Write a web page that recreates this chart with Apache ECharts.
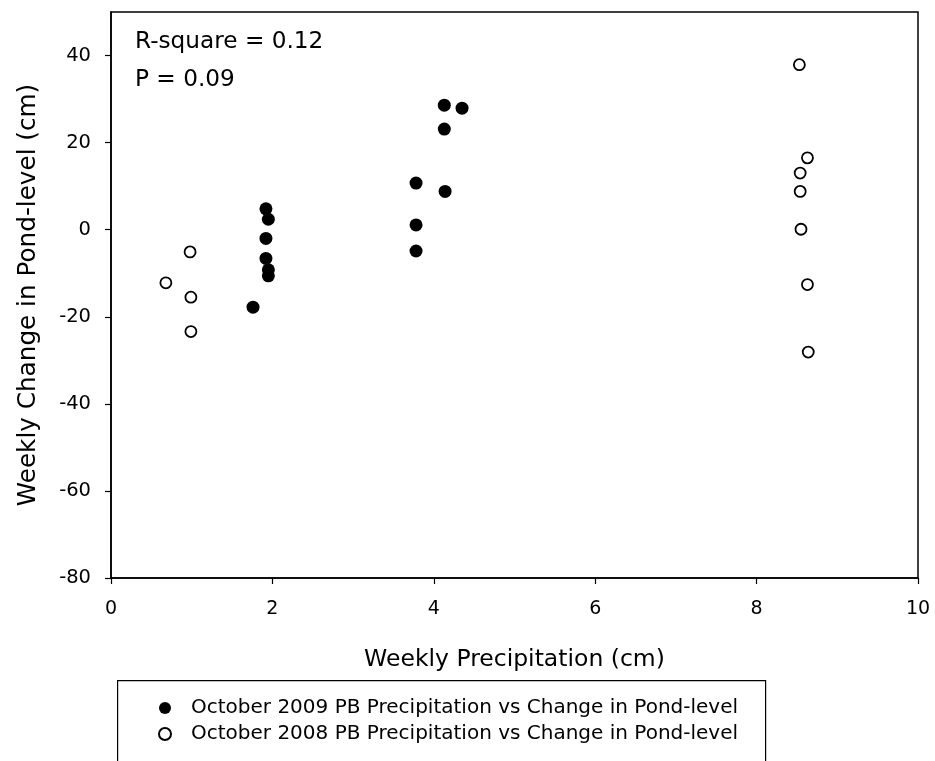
<!DOCTYPE html>
<html>
<head>
<meta charset="utf-8">
<script src="https://cdn.jsdelivr.net/npm/echarts@6/dist/echarts.min.js"></script>
<style>
html,body{margin:0;padding:0;background:#fff;}
#chart{width:935px;height:761px;}
</style>
</head>
<body>
<div id="chart"></div>
<script>
// Data
var x2009 = [1.92, 1.95, 1.92, 1.92, 1.95, 1.95, 1.76, 3.78, 4.14, 3.78, 3.78, 4.13, 4.35, 4.13];
var y2009 = [4.8, 2.4, -2.0, -6.6, -9.2, -10.6, -17.8, 10.7, 8.8, 1.1, -4.9, 28.6, 27.9, 23.1];
var x2008 = [0.98, 0.68, 0.99, 0.99, 8.53, 8.63, 8.54, 8.54, 8.55, 8.63, 8.64];
var y2008 = [-5.1, -12.2, -15.5, -23.4, 37.9, 16.5, 13.0, 8.8, 0.1, -12.6, -28.1];
var name2009 = 'October 2009 PB Precipitation vs Change in Pond-level';
var name2008 = 'October 2008 PB Precipitation vs Change in Pond-level';
var xTitle = 'Weekly Precipitation (cm)';
var yTitle = 'Weekly Change in Pond-level (cm)';
var statLines = ['R-square = 0.12', 'P = 0.09'];

function pairs(xs, ys){ return xs.map(function(x,i){ return [x, ys[i]]; }); }

var FONT = 'DejaVu Sans';
var chart = echarts.init(document.getElementById('chart'), null, {renderer:'canvas'});
chart.setOption({
  backgroundColor: '#fff',
  animation: false,
  textStyle: {fontFamily: FONT, color: '#000'},
  grid: {left: 111, right: 17, top: 12, bottom: 183, show: true, borderColor: '#000', borderWidth: 1.5, backgroundColor: 'transparent'},
  xAxis: {
    type: 'value', min: 0, max: 10, interval: 2,
    name: xTitle, nameLocation: 'middle', nameGap: 70,
    nameTextStyle: {fontFamily: FONT, fontSize: 23.5, color: '#000'},
    axisLine: {show: true, onZero: false, lineStyle: {color: '#000', width: 1.5}},
    axisTick: {show: true, inside: false, length: 6, lineStyle: {color: '#000', width: 1.2}},
    axisLabel: {fontFamily: FONT, fontSize: 19, color: '#000', margin: 22},
    splitLine: {show: false}
  },
  yAxis: {
    type: 'value', min: -80, max: 50, interval: 20,
    name: yTitle, nameLocation: 'middle', nameGap: 70,
    nameTextStyle: {fontFamily: FONT, fontSize: 24.7, color: '#000'},
    axisLine: {show: true, onZero: false, lineStyle: {color: '#000', width: 1.5}},
    axisTick: {show: true, inside: false, length: 6, lineStyle: {color: '#000', width: 1.2}},
    axisLabel: {fontFamily: FONT, fontSize: 19.5, color: '#000', margin: 20, showMaxLabel: false},
    splitLine: {show: false}
  },
  legend: {
    orient: 'vertical', left: 153, top: 693, itemGap: 6,
    itemWidth: 12, itemHeight: 12,
    textStyle: {fontFamily: FONT, fontSize: 20, color: '#000', padding: [0,0,0,15]},
    data: [
      {name: name2009, icon: 'circle'},
      {name: name2008, icon: 'circle'}
    ]
  },
  graphic: [
    {type: 'rect', left: 117, top: 680, shape: {width: 648, height: 120}, style: {fill: 'transparent', stroke: '#000', lineWidth: 1.2}, z: -1},
    {type: 'text', left: 135, top: 30, style: {text: statLines[0], fontFamily: FONT, fontSize: 23.2, fill: '#000'}},
    {type: 'text', left: 135, top: 68, style: {text: statLines[1], fontFamily: FONT, fontSize: 23.2, fill: '#000'}}
  ],
  series: [
    {
      name: name2009, type: 'scatter', symbol: 'circle', symbolSize: 13,
      data: pairs(x2009, y2009),
      itemStyle: {color: '#000', opacity: 1}
    },
    {
      name: name2008, type: 'scatter', symbol: 'circle', symbolSize: 11,
      data: pairs(x2008, y2008),
      itemStyle: {color: '#fff', borderColor: '#000', borderWidth: 1.8, opacity: 1}
    }
  ]
});
</script>
</body>
</html>
